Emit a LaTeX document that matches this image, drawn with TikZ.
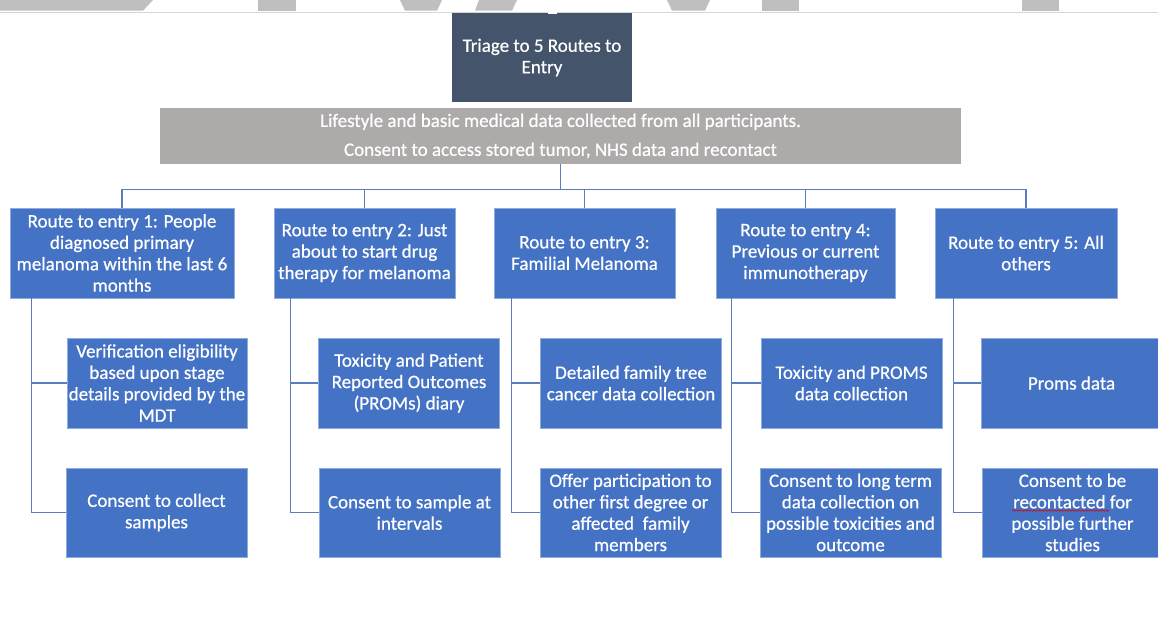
\documentclass[tikz,border=0pt]{standalone}
\usepackage{fontspec}
\setmainfont{Carlito}[FakeBold=0.6]
\usetikzlibrary{decorations.pathmorphing}
\definecolor{boxblue}{HTML}{4472C4}
\definecolor{boxedge}{HTML}{8FAADC}
\definecolor{darkslate}{HTML}{44546A}
\definecolor{graybox}{HTML}{AEAAAA}
\definecolor{wm}{HTML}{BFBFBF}
\definecolor{wmline}{HTML}{D6D6D6}
\definecolor{linecol}{HTML}{5A7DC0}
\begin{document}
\begin{tikzpicture}[x=1pt,y=-1pt,
  txt/.style={text=white, align=center, inner sep=0pt, font=\fontsize{19}{21.4}\selectfont},
  bluebox/.style={txt, fill=boxblue, draw=boxedge, line width=0.6pt},
  routebox/.style={bluebox, minimum height=90pt},
  subbox/.style={bluebox, minimum width=181pt, minimum height=90pt},
  link/.style={draw=linecol, line width=1.3pt}]
\useasboundingbox (0,0) rectangle (1158,628);
\fill[white] (0,0) rectangle (1158,628);
% watermark fragments at the top edge
\fill[wm] (0,0) -- (153,0) -- (143,10.7) -- (0,10.7) -- cycle;
\fill[wm] (258,0) rectangle (296,10.7);
\fill[wm] (400,0) -- (442,0) -- (437,10.7) -- (405,10.7) -- cycle;
\fill[wm] (479,0) -- (517,0) -- (512,10.7) -- (475,10.7) -- cycle;
\fill[wm] (667,0) -- (710,0) -- (705,10.7) -- (672,10.7) -- cycle;
\fill[wm] (762,0) rectangle (799,10.7);
\fill[wm] (1022,0) rectangle (1059,10.7);
\draw[wmline, line width=1.3pt] (0,12.4) -- (1158,12.4);

% top boxes
\node[txt, fill=darkslate, minimum width=180pt, minimum height=89pt] (triage) at (542,57.5)
  {Triage to 5 Routes to\\Entry};
\fill[white] (548,10) rectangle (557,14);
\node[txt, fill=graybox, minimum width=801pt, minimum height=56pt] (gray) at (560.5,136)
  {Lifestyle and basic medical data collected from all participants.\\[7.5pt]
   Consent to access stored tumor, NHS data and recontact};

% route boxes
\node[routebox, minimum width=224pt] (R1) at (122,253)
  {Route to entry 1: People\\diagnosed primary\\melanoma within the last 6\\months};
\node[routebox, minimum width=181pt] (R2) at (364.5,253)
  {Route to entry 2: Just\\about to start drug\\therapy for melanoma};
\node[routebox, minimum width=181pt] (R3) at (584.5,253)
  {Route to entry 3:\\Familial Melanoma};
\node[routebox, minimum width=179pt] (R4) at (805.5,253)
  {Route to entry 4:\\Previous or current\\immunotherapy};
\node[routebox, minimum width=182pt] (R5) at (1026,253)
  {Route to entry 5: All\\others};

% second row
\node[subbox, minimum width=180pt] (A1) at (157,383)
  {Verification eligibility\\based upon stage\\details provided by the\\MDT};
\node[subbox] (A2) at (409,383)
  {Toxicity and Patient\\Reported Outcomes\\(PROMs) diary};
\node[subbox] (A3) at (631,383)
  {Detailed family tree\\cancer data collection};
\node[subbox] (A4) at (851.5,383)
  {Toxicity and PROMS\\data collection};
\node[subbox] (A5) at (1071.5,383)
  {Proms data};

% third row
\node[subbox, minimum height=89pt] (B1) at (156.5,512.5)
  {Consent to collect\\samples};
\node[subbox, minimum height=89pt] (B2) at (409.5,512.5)
  {Consent to sample at\\intervals};
\node[subbox, minimum height=89pt] (B3) at (630.5,512.5)
  {Offer participation to\\other first degree or\\affected\ \ family\\members};
\node[subbox, minimum height=89pt] (B4) at (850.5,512.5)
  {Consent to long term\\data collection on\\possible toxicities and\\outcome};
\node[subbox, minimum height=89pt] (B5) at (1072.5,512.5)
  {Consent to be\\recontacted for\\possible further\\studies};
\draw[red!85!black, line width=0.6pt, decorate,
  decoration={snake, amplitude=0.7pt, segment length=3pt}] (1012,510.5) -- (1109,510.5);

% connectors
\draw[link] (gray.south) -- ++(0,25) coordinate (bus);
\foreach \r in {R1,R2,R3,R4,R5} \draw[link] (bus) -| (\r.north);
\foreach \r/\a/\b/\dx in {R1/A1/B1/22,R2/A2/B2/17,R3/A3/B3/18,R4/A4/B4/16,R5/A5/B5/19}{
  \draw[link] ([xshift=\dx pt]\r.south west) |- (\b.west);
  \draw[link] ([xshift=\dx pt]\r.south west |- \a.west) -- (\a.west);
}
\end{tikzpicture}
\end{document}
